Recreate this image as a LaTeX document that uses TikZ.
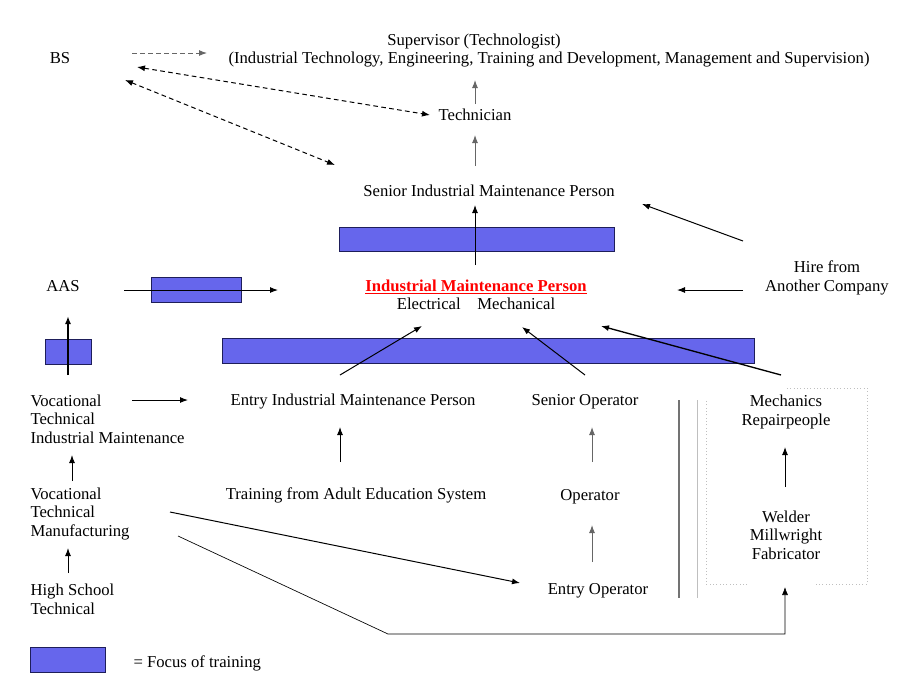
\documentclass[tikz,border=0pt]{standalone}
\usepackage{fontspec}
\setmainfont{Liberation Serif}
\usetikzlibrary{arrows.meta,calc}
\definecolor{focusblue}{RGB}{102,102,236}
\definecolor{focusline}{RGB}{30,30,90}
\tikzset{every picture/.style={line width=0.75pt}}
\tikzset{
  lbl/.style={inner sep=0pt, font=\fontsize{12.5}{14}\selectfont, text height=10pt, text depth=2pt},
  lblm/.style={inner sep=0pt, font=\fontsize{12.5}{14}\selectfont},
  focus/.style={fill=focusblue, draw=focusline, line width=0.6pt},
  arr/.style={-{Latex[length=6pt,width=4.5pt]}},
  garr/.style={arr, draw=black!60},
  darr/.style={-{Latex[length=6pt,width=4.5pt]}, dash pattern=on 3.5pt off 2.5pt},
  ddarr/.style={{Latex[length=6pt,width=4.5pt]}-{Latex[length=6pt,width=4.5pt]}, dash pattern=on 3.5pt off 2.5pt}
}

\begin{document}
\begin{tikzpicture}[x=0.75pt,y=0.75pt,yscale=-1,xscale=1]
\useasboundingbox (0,0) rectangle (920,690);

%Shape: Focus bars
\draw [focus] (339,227) rectangle (614,251) ;
\draw [focus] (151,277) rectangle (241,302) ;
\draw [focus] (45,339) rectangle (91,364) ;
\draw [focus] (222,338) rectangle (754,363) ;
\draw [focus] (30,647) rectangle (105,672) ;

% Text Node
\node (bs) at (60,58) [lbl] {BS};
% Text Node
\node (sup1) at (474,40) [lbl] {Supervisor (Technologist)};
% Text Node
\node (sup2) at (549,58) [lbl] {(Industrial Technology, Engineering, Training and Development, Management and Supervision)};
% Text Node
\node (tech) at (475,115) [lbl] {Technician};
% Text Node
\node (senior) at (489,191) [lbl] {Senior Industrial Maintenance Person};
% Text Node
\node (imp) at (476,286) [lbl, text=red, font=\fontsize{12.5}{14}\selectfont\bfseries] {\underline{Industrial Maintenance Person}};
% Text Node
\node (elmech) at (476,304) [lbl] {Electrical\hspace{1em}Mechanical};
% Text Node
\node (hire) at (827,278) [lblm, align=center] {Hire from\\Another Company};
% Text Node
\node (aas) at (63,286) [lbl] {AAS};
% Text Node
\node (vtim) at (30,419) [lblm, anchor=west, align=left] {Vocational\\Technical\\Industrial Maintenance};
% Text Node
\node (eimp) at (353,400) [lbl] {Entry Industrial Maintenance Person};
% Text Node
\node (sop) at (585,400) [lbl] {Senior Operator};
% Text Node
\node (mech) at (786,412) [lblm, align=center] {Mechanics\\Repairpeople};
% Text Node
\node (tadult) at (356,494) [lbl] {Training from Adult Education System};
% Text Node
\node (op) at (590,495) [lbl] {Operator};
% Text Node
\node (vtm) at (30,514) [lblm, anchor=west, align=left] {Vocational\\Technical\\Manufacturing};
% Text Node
\node (weld) at (786,535) [lblm, align=center] {Welder\\Millwright\\Fabricator};
% Text Node
\node (eop) at (598,589) [lbl] {Entry Operator};
% Text Node
\node (hs) at (30,599) [lblm, anchor=west, align=left] {High School\\Technical};
% Text Node
\node (legend) at (133,662) [lbl, anchor=west] {= Focus of training};

%Straight Lines: separators
\draw [draw=black!55, line width=1.1pt] (679,400) -- (679,598) ;
\draw [draw=black!25, line width=0.5pt] (697,400) -- (697,598) ;
\draw [draw=black!25, dotted, line width=0.5pt] (787,388) -- (867,388) -- (867,584) -- (815,584) ;
\draw [draw=black!25, dotted, line width=0.5pt] (747,584) -- (706,584) -- (706,400) ;

%Dashed Lines
\draw [darr, draw=black!60] ($(bs)+(72,-5)$) -- ($(sup2)+(-342,-5)$) ;
\draw [ddarr] ($(bs)+(77,9)$) -- ($(tech)+(-45,0)$) ;
\draw [ddarr] ($(bs)+(65,22)$) -- ($(senior)+(-154,-26)$) ;

%Straight Lines: upper ladder
\draw [garr] ($(tech)+(0,-11)$) -- ($(sup2)+(-74,22)$) ;
\draw [garr] ($(senior)+(-14,-25)$) -- ($(tech)+(0,20)$) ;
\draw [arr] ($(imp)+(-1,-21)$) -- ($(senior)+(-14,14)$) ;
\draw [arr] ($(hire)+(-84,-37)$) -- ($(senior)+(153,13)$) ;
\draw [arr] ($(hire)+(-84,12)$) -- ($(imp)+(201,4)$) ;
\draw [arr] ($(aas)+(61,4)$) -- ($(imp)+(-198,4)$) ;
\draw [arr, line width=1.2pt] ($(vtim.west)+(38,-44)$) -- ($(aas)+(5,30)$) ;

%Straight Lines: into Industrial Maintenance Person
\draw [arr] ($(eimp)+(-13,-25)$) -- ($(imp)+(-54,40)$) ;
\draw [arr] ($(sop)+(0,-25)$) -- ($(imp)+(46,41)$) ;
\draw [arr, line width=1pt] ($(mech)+(-5,-37)$) -- ($(imp)+(125,40)$) ;

%Straight Lines: lower ladders
\draw [arr] ($(vtim.west)+(102,-19)$) -- ($(eimp)+(-165,0)$) ;
\draw [arr] ($(tadult)+(-16,-32)$) -- ($(eimp)+(-13,27)$) ;
\draw [garr] ($(op)+(2,-33)$) -- ($(sop)+(7,27)$) ;
\draw [garr] ($(eop)+(-6,-27)$) -- ($(op)+(2,30)$) ;
\draw [arr] ($(weld)+(-1,-48)$) -- ($(mech)+(-1,35)$) ;
\draw [arr] ($(vtm.west)+(42,-33)$) -- ($(vtim.west)+(42,36)$) ;
\draw [arr] ($(hs.west)+(38,-26)$) -- ($(vtm.west)+(38,34)$) ;
\draw [arr] ($(vtm.west)+(140,-2)$) -- ($(eop)+(-78,-6)$) ;
\draw [arr, line width=0.5pt] ($(vtm.west)+(148,22)$) -- ++(210,98) -| ($(weld)+(-1,52)$) ;

\end{tikzpicture}
\end{document}
